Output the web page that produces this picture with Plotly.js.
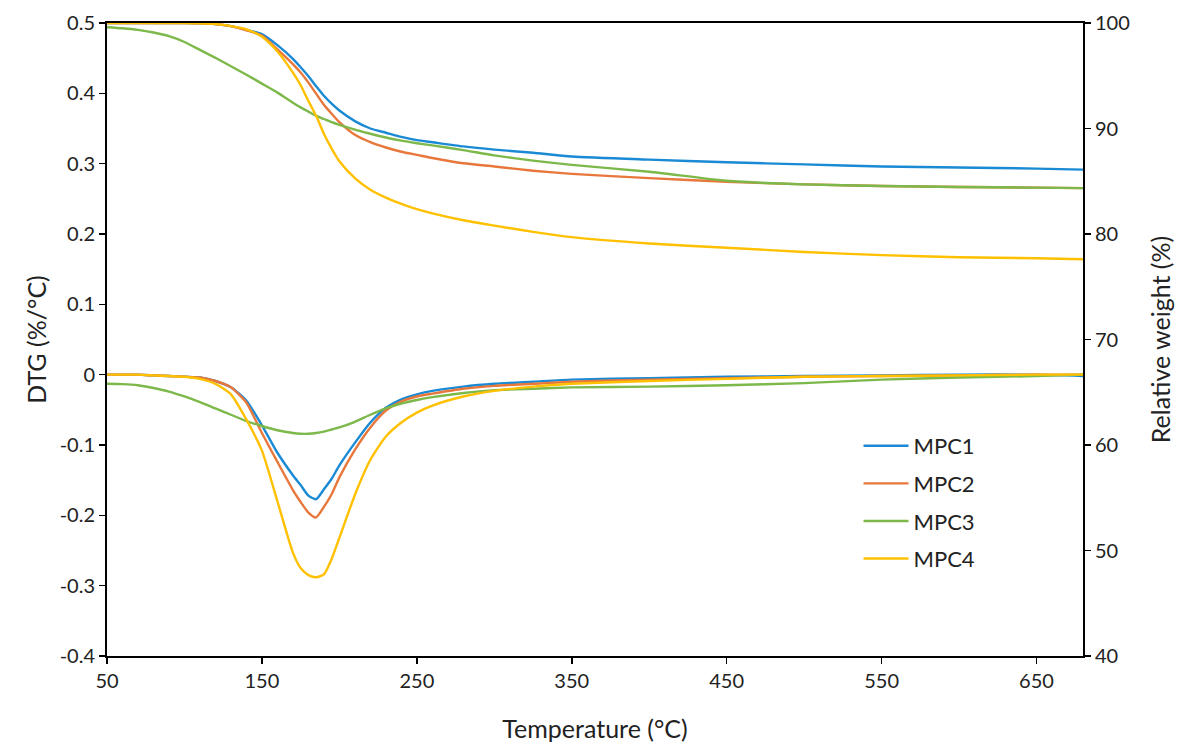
<!DOCTYPE html>
<html>
<head>
<meta charset="utf-8">
<script src="https://cdn.plot.ly/plotly-3.0.1.min.js"></script>
<style>html,body{margin:0;padding:0;background:#fff;}#chart{width:1181px;height:743px;}</style>
</head>
<body>
<div id="chart"></div>
<script>
// Temperature (°C)
const temperature = [50,60,70,80,90,100,110,120,130,140,150,160,170,175,180,185,190,195,200,210,220,230,240,250,260,280,300,325,350,400,450,500,550,600,650,680];

// DTG (%/°C), left axis
const dtgMPC1 = [0,0,0,-0.001,-0.002,-0.003,-0.004,-0.009,-0.018,-0.037,-0.072,-0.111,-0.143,-0.157,-0.172,-0.177,-0.163,-0.148,-0.129,-0.097,-0.068,-0.047,-0.035,-0.028,-0.023,-0.017,-0.013,-0.010,-0.007,-0.005,-0.003,-0.002,-0.001,0,0,-0.002];
const dtgMPC2 = [0,0,0,-0.001,-0.002,-0.003,-0.004,-0.009,-0.018,-0.040,-0.083,-0.124,-0.164,-0.181,-0.196,-0.203,-0.188,-0.170,-0.146,-0.107,-0.075,-0.051,-0.038,-0.031,-0.027,-0.020,-0.016,-0.013,-0.010,-0.007,-0.005,-0.003,-0.002,-0.001,0,0];
const dtgMPC3 = [-0.013,-0.0135,-0.015,-0.019,-0.024,-0.031,-0.039,-0.048,-0.057,-0.066,-0.073,-0.079,-0.083,-0.084,-0.084,-0.083,-0.081,-0.078,-0.075,-0.067,-0.057,-0.048,-0.041,-0.036,-0.032,-0.026,-0.022,-0.020,-0.018,-0.017,-0.015,-0.012,-0.007,-0.004,-0.002,0];
const dtgMPC4 = [0,0,0,-0.001,-0.002,-0.003,-0.006,-0.013,-0.028,-0.064,-0.108,-0.180,-0.253,-0.275,-0.285,-0.288,-0.284,-0.262,-0.232,-0.171,-0.121,-0.088,-0.068,-0.054,-0.044,-0.031,-0.023,-0.017,-0.013,-0.009,-0.006,-0.003,-0.002,-0.001,0,0];

// Relative weight (%), right axis
const wMPC1 = [100,100,100,100,100,100,99.98,99.9,99.7,99.35,98.95,97.9,96.6,95.8,94.95,94.0,93.1,92.35,91.7,90.7,90.0,89.6,89.2,88.9,88.7,88.3,88.0,87.7,87.35,87.05,86.8,86.6,86.4,86.3,86.2,86.1];
const wMPC2 = [100,100,100,100,100,100,99.98,99.9,99.7,99.3,98.8,97.5,96.1,95.3,94.35,93.3,92.25,91.4,90.6,89.4,88.7,88.2,87.8,87.5,87.2,86.7,86.4,86.0,85.7,85.3,84.95,84.7,84.55,84.45,84.4,84.35];
const wMPC3 = [99.6,99.5,99.35,99.1,98.75,98.2,97.45,96.7,95.9,95.1,94.25,93.4,92.45,92.0,91.6,91.2,90.9,90.6,90.35,89.9,89.5,89.15,88.85,88.6,88.4,87.95,87.45,86.95,86.55,85.9,85.05,84.7,84.55,84.45,84.4,84.35];
const wMPC4 = [100,100,100,100,100,100,99.98,99.9,99.7,99.4,98.7,97.3,95.3,94.1,92.6,91.2,89.5,88.1,86.9,85.3,84.2,83.45,82.85,82.35,81.95,81.3,80.8,80.2,79.7,79.1,78.7,78.3,78.0,77.8,77.7,77.6];

const names = ['MPC1','MPC2','MPC3','MPC4'];
const colors = ['#1a8ad4','#e8773c','#7db84a','#ffc000'];
const dtg = [dtgMPC1,dtgMPC2,dtgMPC3,dtgMPC4];
const wt = [wMPC1,wMPC2,wMPC3,wMPC4];

const traces = [];
for (let i = 0; i < 4; i++) {
  traces.push({x: temperature, y: wt[i], type:'scatter', mode:'lines', yaxis:'y2',
    line:{color:colors[i], width:2.4, shape:'spline', smoothing:0.6}, showlegend:false, hoverinfo:'skip'});
}
for (let i = 0; i < 4; i++) {
  traces.push({x: temperature, y: dtg[i], type:'scatter', mode:'lines', name:names[i], legendgroup:names[i],
    line:{color:colors[i], width:2.4, shape:'spline', smoothing:0.6}});
}

const fam = 'Lato, "Open Sans", sans-serif';
const layout = {
  width:1181, height:743,
  margin:{l:107, r:98, t:23, b:87},
  paper_bgcolor:'#fff', plot_bgcolor:'#fff',
  font: {family:fam, size:20, color:'#222'},
  showlegend:true,
  legend:{x:0.77, y:0.365, xanchor:'left', yanchor:'top', bgcolor:'rgba(0,0,0,0)',
    font:{family:fam, size:22, color:'#222'}, tracegroupgap:6, itemwidth:45},
  xaxis:{range:[50,680], tickvals:[50,150,250,350,450,550,650], showgrid:false, zeroline:false,
    showline:true, mirror:true, linecolor:'#000', linewidth:2, ticks:'outside', ticklen:6, tickcolor:'#000', tickwidth:1.5,
    tickfont:{size:20}, title:{text:'Temperature (°C)', font:{size:25}, standoff:30}},
  yaxis:{range:[-0.4,0.5], tickvals:[-0.4,-0.3,-0.2,-0.1,0,0.1,0.2,0.3,0.4,0.5],
    ticktext:['-0.4','-0.3','-0.2','-0.1','0','0.1','0.2','0.3','0.4','0.5'],
    showgrid:false, zeroline:false, showline:true, linecolor:'#000', linewidth:2,
    ticks:'outside', ticklen:6, tickcolor:'#000', tickwidth:1.5, tickfont:{size:20},
    title:{text:'DTG (%/°C)', font:{size:25}, standoff:6}},
  yaxis2:{range:[40,100], tickvals:[40,50,60,70,80,90,100], overlaying:'y', side:'right',
    showgrid:false, zeroline:false, showline:true, linecolor:'#000', linewidth:2,
    ticks:'outside', ticklen:6, tickcolor:'#000', tickwidth:1.5, tickfont:{size:20},
    title:{text:'Relative weight (%)', font:{size:25}, standoff:24}}
};

Plotly.newPlot('chart', traces, layout, {displayModeBar:false, staticPlot:true});
</script>
</body>
</html>
